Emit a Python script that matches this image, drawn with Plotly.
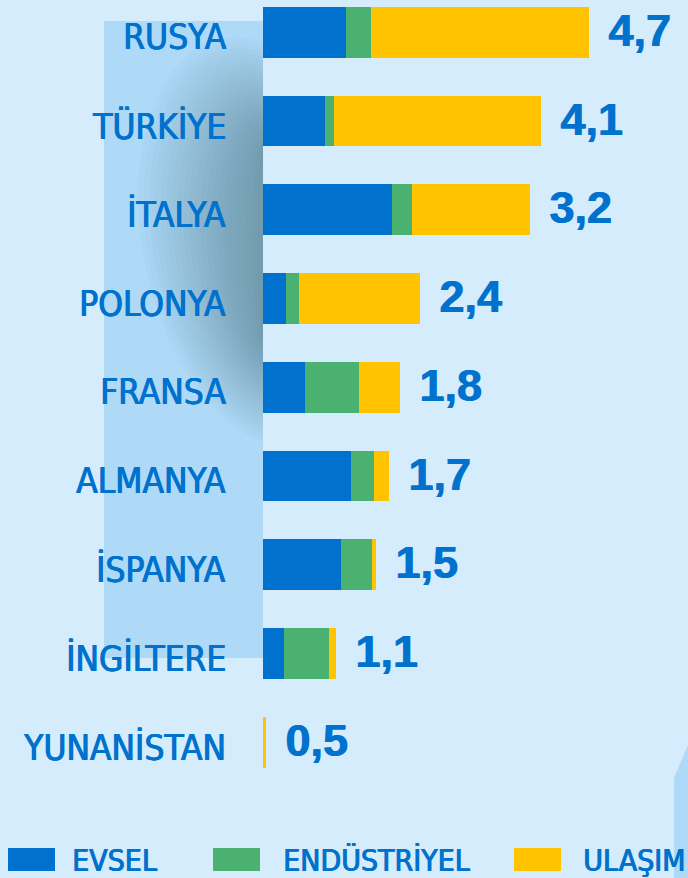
import math
import plotly.graph_objects as go

# ---------------- data ----------------
countries = ["RUSYA", "TÜRKİYE", "İTALYA", "POLONYA", "FRANSA",
             "ALMANYA", "İSPANYA", "İNGİLTERE", "YUNANİSTAN"]
evsel = [1.20, 0.89, 1.86, 0.33, 0.61, 1.27, 1.12, 0.30, 0.00]
endustriyel = [0.36, 0.14, 0.29, 0.19, 0.78, 0.33, 0.45, 0.65, 0.00]
ulasim = [3.14, 2.97, 1.69, 1.74, 0.58, 0.22, 0.06, 0.10, 0.05]
total_labels = ["4,7", "4,1", "3,2", "2,4", "1,8", "1,7", "1,5", "1,1", "0,5"]
series_names = ["EVSEL", "ENDÜSTRİYEL", "ULAŞIM"]

# ---------------- style ----------------
W, H = 688, 878
BG = "#d4ecfb"
PANEL = "#aedaf8"
TXT = "#0072ce"
COLORS = ["#0072ce", "#4bb170", "#ffc300"]
PX_PER_UNIT = 69.4
X0 = 263
ROW0, ROWSTEP = 32.3, 88.75
LABEL_FONT = "DejaVu Sans Condensed, Roboto"
THICK = f"0.7px 0 0 {TXT}, -0.3px 0 0 {TXT}"
THICK_BOLD = f"1px 0 0 {TXT}"

def px(x):
    return x / W

def py(y):
    return 1 - y / H

fig = go.Figure()
for name, vals, col in zip(series_names, [evsel, endustriyel, ulasim], COLORS):
    fig.add_trace(go.Bar(
        y=countries, x=vals, orientation="h", name=name,
        marker=dict(color=col, line=dict(width=0)),
        width=0.571, showlegend=False, hoverinfo="x+y+name",
    ))

shapes = []
# light panel behind country labels
shapes.append(dict(type="rect", xref="paper", yref="paper",
                   x0=px(104), x1=px(263), y0=py(658), y1=py(21),
                   fillcolor=PANEL, line=dict(width=0), layer="below"))
# soft shadow (layered half-ellipses)
n_layers = 22
for k in range(n_layers):
    s = 1 - k / n_layers
    a = 125 * s
    b = 200 * (0.45 + 0.55 * s)
    yc, skew = 242, -45 * s
    pts = []
    for j in range(41):
        th = math.pi * j / 40
        x = 263 - a * math.sin(th)
        y = yc - b * math.cos(th) + skew * math.sin(th)
        pts.append((x, y))
    path = "M " + " L ".join(f"{px(x):.5f},{py(y):.5f}" for x, y in pts) + " Z"
    shapes.append(dict(type="path", xref="paper", yref="paper", path=path,
                       fillcolor="rgba(45,70,92,0.022)", line=dict(width=0),
                       layer="below"))
# bottom-right decorative shape
path = (f"M {px(674)},{py(878)} L {px(674)},{py(778)} L {px(688)},{py(745)} "
        f"L {px(688)},{py(878)} Z")
shapes.append(dict(type="path", xref="paper", yref="paper", path=path,
                   fillcolor=PANEL, line=dict(width=0), layer="below"))

annotations = []
# country labels
for c in countries:
    annotations.append(dict(x=0, y=c, xref="x", yref="y", text=c,
                            xanchor="right", yanchor="middle",
                            xshift=-35, yshift=-5, showarrow=False,
                            font=dict(family=LABEL_FONT, size=35, color=TXT,
                                      shadow=THICK)))
# total value labels
for i, c in enumerate(countries):
    tot = evsel[i] + endustriyel[i] + ulasim[i]
    annotations.append(dict(x=tot, y=c, xref="x", yref="y",
                            text=f"<b>{total_labels[i]}</b>",
                            xanchor="left", yanchor="middle",
                            xshift=17, yshift=2, showarrow=False,
                            font=dict(family="Liberation Sans, Arial", size=45,
                                      color=TXT, shadow=THICK_BOLD)))

# legend (drawn manually)
leg_rect_x = [8, 213, 514]
leg_text_x = [70, 281, 581]
for name, col, rx, tx in zip(series_names, COLORS, leg_rect_x, leg_text_x):
    shapes.append(dict(type="rect", xref="paper", yref="paper",
                       x0=px(rx), x1=px(rx + 47), y0=py(871), y1=py(848),
                       fillcolor=col, line=dict(width=0)))
    annotations.append(dict(x=px(tx), y=py(860), xref="paper", yref="paper",
                            text=name, xanchor="left", yanchor="middle",
                            showarrow=False,
                            font=dict(family=LABEL_FONT, size=30, color=TXT,
                                      shadow=THICK)))

fig.update_layout(
    width=W, height=H, barmode="stack",
    margin=dict(l=0, r=0, t=0, b=0),
    paper_bgcolor=BG, plot_bgcolor=BG,
    bargap=0,
    xaxis=dict(range=[-X0 / PX_PER_UNIT, (W - X0) / PX_PER_UNIT],
               visible=False, fixedrange=True),
    yaxis=dict(range=[(H - ROW0) / ROWSTEP, -ROW0 / ROWSTEP],
               visible=False, fixedrange=True, type="category"),
    shapes=shapes, annotations=annotations,
    showlegend=False,
)

fig.write_html("out.html", config={"displayModeBar": False},
               post_script="document.body.style.margin='0';document.body.style.overflow='hidden';")
